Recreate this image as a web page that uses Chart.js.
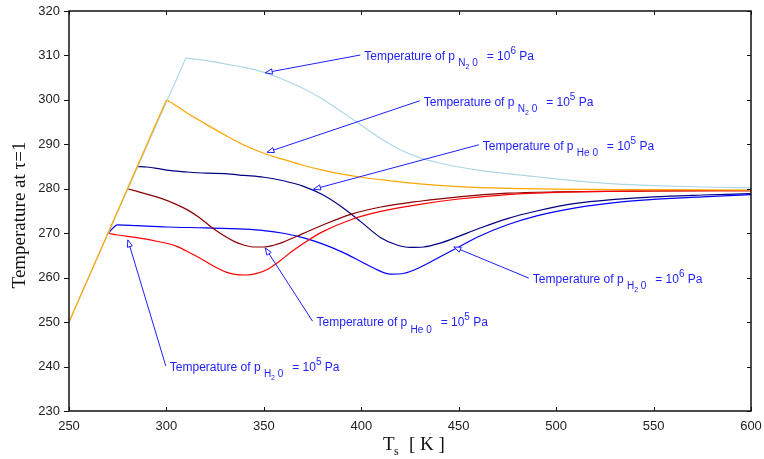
<!DOCTYPE html>
<html>
<head>
<meta charset="utf-8">
<script src="https://cdn.jsdelivr.net/npm/chart.js@4.4.1/dist/chart.umd.min.js"></script>
<style>
  html, body { margin: 0; padding: 0; background: #fff; }
</style>
</head>
<body>
<canvas id="chart" width="764" height="459"></canvas>
<script>
// axis ticks
const tsTicks = [250, 300, 350, 400, 450, 500, 550, 600];
const tempTicks = [230, 240, 250, 260, 270, 280, 290, 300, 310, 320];

// the T = Ts rise that every curve leaves from
const riseOrangeTs = [250, 300];
const riseOrangeT = [250, 300];
const riseLightTs = [250, 310];
const riseLightT = [250, 309.4];

// N2, 10^6 Pa (light blue)
const n2HighTs = [310, 320, 330, 340, 350, 360, 370, 380, 390, 400, 410, 420, 430, 440, 450, 460, 475, 490, 510, 530, 550, 575, 600];
const n2HighT = [309.4, 308.9, 308.1, 307.3, 306.2, 304.6, 302.6, 300.2, 297.3, 294.3, 291.3, 288.8, 287.0, 285.8, 284.9, 284.2, 283.4, 282.7, 281.8, 281.1, 280.7, 280.4, 280.2];

// N2, 10^5 Pa (orange)
const n2LowTs = [300, 305, 310, 315, 320, 330, 340, 350, 360, 370, 380, 390, 400, 415, 430, 450, 475, 500, 550, 600];
const n2LowT = [300, 298.7, 297.2, 295.9, 294.6, 292.1, 289.8, 288.0, 286.6, 285.3, 284.2, 283.3, 282.6, 281.8, 281.1, 280.5, 280.1, 279.9, 279.8, 279.7];

// He, 10^5 Pa, upper (navy)
const heUpperTs = [285, 290, 295, 300, 310, 320, 330, 340, 350, 360, 370, 380, 390, 400, 410, 418, 425, 432, 440, 450, 460, 475, 490, 510, 530, 550, 575, 600];
const heUpperT = [285, 284.9, 284.6, 284.2, 283.8, 283.5, 283.4, 283.0, 282.6, 281.8, 280.6, 278.7, 275.9, 272.5, 269.0, 267.4, 266.8, 266.9, 267.7, 269.3, 271.0, 273.3, 275.0, 276.7, 277.6, 278.2, 278.6, 278.9];

// He, 10^5 Pa, lower (dark red)
const heLowerTs = [280, 285, 290, 297, 305, 311, 317, 323, 330, 335, 340, 345, 350, 355, 360, 370, 380, 395, 410, 430, 450, 475, 500, 550, 600];
const heLowerT = [280, 279.4, 278.8, 277.9, 276.5, 275.2, 273.5, 271.4, 269.3, 268.1, 267.3, 266.9, 266.9, 267.3, 268.0, 269.9, 271.8, 274.3, 275.9, 277.2, 278.2, 279.0, 279.3, 279.5, 279.6];

// H2O, 10^5 Pa (red)
const h2oLowTs = [270, 275, 285, 295, 305, 312, 318, 325, 331, 336, 341, 346, 352, 358, 365, 372, 380, 395, 410, 430, 450, 475, 500, 550, 600];
const h2oLowT = [270, 269.6, 269.0, 268.2, 267.1, 265.6, 264.2, 262.4, 261.2, 260.7, 260.6, 260.9, 261.9, 263.7, 266.1, 268.2, 270.3, 273.1, 274.9, 276.5, 277.7, 278.7, 279.2, 279.5, 279.6];

// H2O, 10^6 Pa (blue)
const h2oHighTs = [270, 275, 285, 300, 320, 340, 350, 360, 370, 380, 390, 400, 408, 415, 422, 430, 440, 450, 460, 475, 490, 510, 530, 550, 575, 600];
const h2oHighT = [270, 271.9, 271.7, 271.4, 271.2, 270.9, 270.6, 270.0, 269.0, 267.6, 265.8, 263.6, 261.8, 260.8, 261.0, 262.3, 264.6, 266.9, 269.2, 271.9, 273.9, 275.7, 276.9, 277.6, 278.2, 278.7];

// callouts: arrow tail (at the text) and head (on the curve), in data units
const calloutTail = [[399.5, 310.1], [430.0, 299.8], [460.3, 289.9], [486.0, 259.9], [375.0, 250.2], [299.7, 240.1]];
const calloutHead = [[350.7, 306.1], [351.6, 288.2], [375.5, 279.9], [447.5, 266.9], [350.7, 266.7], [280.2, 268.5]];
const calloutGas = [['N', '2'], ['N', '2'], ['He', ''], ['H', '2'], ['He', ''], ['H', '2']];
const calloutExp = ['6', '5', '5', '6', '5', '5'];

const zip = (xs, ys) => xs.map((x, i) => ({ x, y: ys[i] }));

const SANS = '"Liberation Sans", Arial, sans-serif';
const SERIF = '"Liberation Serif", "Times New Roman", serif';
const BLUE = '#1e1eff';

const line = (data, color) => ({
  data,
  borderColor: color,
  borderWidth: 1.2,
  pointRadius: 0,
  fill: false,
  cubicInterpolationMode: 'monotone',
});

const drawRich = (ctx, x, y, parts) => {
  let cx = x;
  parts.forEach(([text, size, dy]) => {
    ctx.font = `${size}px ${SANS}`;
    ctx.fillText(text, cx, y + dy);
    cx += ctx.measureText(text).width;
  });
};

const noPad = (s) => {
  s.paddingLeft = 0;
  s.paddingRight = 0;
  s.paddingTop = 0;
  s.paddingBottom = 0;
};

const decorPlugin = {
  id: 'decor',
  afterDatasetsDraw(chart) {
    const { ctx, chartArea: a, scales } = chart;
    const xs = scales.x;
    const ys = scales.y;
    ctx.save();

    // frame
    ctx.strokeStyle = '#111';
    ctx.lineWidth = 1.5;
    ctx.strokeRect(a.left, a.top, a.right - a.left, a.bottom - a.top);

    // tick marks
    ctx.lineWidth = 1;
    ctx.beginPath();
    tsTicks.forEach((t) => {
      const px = Math.round(xs.getPixelForValue(t)) + 0.5;
      ctx.moveTo(px, a.bottom); ctx.lineTo(px, a.bottom - 4);
      ctx.moveTo(px, a.top); ctx.lineTo(px, a.top + 4);
    });
    tempTicks.forEach((t) => {
      const py = Math.round(ys.getPixelForValue(t)) + 0.5;
      ctx.moveTo(a.left, py); ctx.lineTo(a.left - 5, py);
      ctx.moveTo(a.right, py); ctx.lineTo(a.right - 4, py);
    });
    ctx.stroke();

    // callouts
    ctx.strokeStyle = BLUE;
    ctx.fillStyle = BLUE;
    ctx.lineWidth = 1;
    calloutTail.forEach((tail, i) => {
      const tx = xs.getPixelForValue(tail[0]);
      const ty = ys.getPixelForValue(tail[1]);
      const hx = xs.getPixelForValue(calloutHead[i][0]);
      const hy = ys.getPixelForValue(calloutHead[i][1]);
      ctx.beginPath();
      ctx.moveTo(tx, ty);
      ctx.lineTo(hx, hy);
      ctx.stroke();

      const ang = Math.atan2(hy - ty, hx - tx);
      const len = 7;
      const half = 2.6;
      const bx = hx - len * Math.cos(ang);
      const by = hy - len * Math.sin(ang);
      ctx.beginPath();
      ctx.moveTo(hx, hy);
      ctx.lineTo(bx + half * Math.sin(ang), by - half * Math.cos(ang));
      ctx.lineTo(bx - half * Math.sin(ang), by + half * Math.cos(ang));
      ctx.closePath();
      ctx.fillStyle = '#fff';
      ctx.fill();
      ctx.stroke();

      ctx.fillStyle = BLUE;
      ctx.textBaseline = 'alphabetic';
      ctx.textAlign = 'left';
      const [gas, idx] = calloutGas[i];
      const parts = [['Temperature of p ', 12, 0], [gas, 10, 6.5]];
      if (idx) parts.push([idx, 7, 9]);
      parts.push([' 0  ', 10, 6.5], [' = 10', 12, 0], [calloutExp[i], 10, -6], [' Pa', 12, 0]);
      drawRich(ctx, tx + 4, ty + 4.8, parts);
    });

    // axis titles
    ctx.fillStyle = '#111';
    ctx.textBaseline = 'alphabetic';
    ctx.font = `19px ${SERIF}`;
    ctx.save();
    ctx.translate(25, 215);
    ctx.rotate(-Math.PI / 2);
    ctx.textAlign = 'center';
    ctx.fillText('Temperature at τ=1', 0, 0);
    ctx.restore();

    ctx.textAlign = 'left';
    ctx.fillText('T', 383, 450);
    ctx.font = `12px ${SERIF}`;
    ctx.fillText('s', 394, 455);
    ctx.font = `19px ${SERIF}`;
    ctx.fillText('[ K ]', 409, 450);

    ctx.restore();
  },
};

new Chart(document.getElementById('chart'), {
  type: 'line',
  data: {
    datasets: [
      line(zip(riseOrangeTs, riseOrangeT), '#ffa500'),
      line(zip(riseLightTs, riseLightT), '#add8e6'),
      line(zip(n2LowTs, n2LowT), '#ffa500'),
      line(zip(n2HighTs, n2HighT), '#add8e6'),
      line(zip(h2oLowTs, h2oLowT), '#ff0000'),
      line(zip(heLowerTs, heLowerT), '#8b0000'),
      line(zip(h2oHighTs, h2oHighT), '#0000ff'),
      line(zip(heUpperTs, heUpperT), '#000080'),
    ],
  },
  options: {
    responsive: false,
    animation: false,
    layout: { padding: { top: 11, right: 13, left: 0, bottom: 0 } },
    plugins: { legend: { display: false }, tooltip: { enabled: false } },
    scales: {
      x: {
        type: 'linear',
        min: 250,
        max: 600,
        afterBuildTicks: (s) => { s.ticks = tsTicks.map((v) => ({ value: v })); },
        afterFit: (s) => { s.height = 48; noPad(s); },
        grid: { display: false, drawTicks: false },
        border: { display: false },
        ticks: { color: '#222', font: { family: SANS, size: 13 }, padding: 8, maxRotation: 0 },
      },
      y: {
        type: 'linear',
        min: 230,
        max: 320,
        afterBuildTicks: (s) => { s.ticks = tempTicks.map((v) => ({ value: v })); },
        afterFit: (s) => { s.width = 69; noPad(s); },
        grid: { display: false, drawTicks: false },
        border: { display: false },
        ticks: { color: '#222', font: { family: SANS, size: 13 }, padding: 9 },
      },
    },
  },
  plugins: [decorPlugin],
});
</script>
</body>
</html>
